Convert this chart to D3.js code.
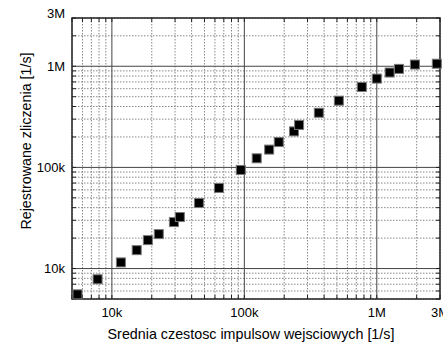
<!DOCTYPE html>
<html>
<head>
<meta charset="utf-8">
<script src="https://cdn.jsdelivr.net/npm/d3@7"></script>
<style>
body { margin: 0; background: #fff; }
text { font-family: "Liberation Sans", Arial, sans-serif; }
</style>
</head>
<body>
<script>
// input rate [1/s] vs registered counts [1/s]
const inputRate = [5500, 7800, 11700, 15400, 18700, 22600, 29400, 32600, 45400, 64300, 94000,
    124000, 154000, 182000, 237000, 259000, 365000, 517000, 771000, 1000000, 1250000, 1470000, 1940000, 2840000];
const counted = [5560, 7830, 11500, 15200, 19100, 21900, 28800, 32300, 44500, 62700, 94400,
    123000, 150000, 178000, 227000, 263000, 347000, 457000, 624000, 755000, 867000, 942000, 1040000, 1060000];

const xTickVals = [1e4, 1e5, 1e6, 3e6];
const xTickLabels = ['10k', '100k', '1M', '3M'];
const yTickVals = [1e4, 1e5, 1e6, 3e6];
const yTickLabels = ['10k', '100k', '1M', '3M'];

const outerWidth = 443;
const outerHeight = 347;
const margin = {top: 18, left: 72, bottom: 48, right: 3};
const width = outerWidth - margin.left - margin.right;
const height = outerHeight - margin.top - margin.bottom;

const svg = d3.select('body')
    .append('svg')
    .attr('width', outerWidth)
    .attr('height', outerHeight)
    .append('g')
    .attr('transform', `translate(${margin.left}, ${margin.top})`);

const xScale = d3.scaleLog().domain([5000, 3e6]).range([0, width]);
const yScale = d3.scaleLog().domain([5000, 3e6]).range([height, 0]);

// minor (2..9) and major (decade) positions
function logTicks(lo, hi) {
    let minor = [], major = [];
    for (let e = 3; e <= 7; e++) {
        for (let m = 1; m < 10; m++) {
            let v = m * Math.pow(10, e);
            if (v < lo || v > hi) continue;
            if (m === 1) major.push(v); else minor.push(v);
        }
    }
    return {minor, major};
}
const xt = logTicks(5000, 3e6);
const yt = logTicks(5000, 3e6);

const grid = svg.append('g');
grid.selectAll('.xminor').data(xt.minor).enter().append('line')
    .attr('x1', d => xScale(d)).attr('x2', d => xScale(d))
    .attr('y1', 0).attr('y2', height)
    .attr('stroke', '#888').attr('stroke-dasharray', '1.5,1.5').attr('stroke-width', 1);
grid.selectAll('.yminor').data(yt.minor).enter().append('line')
    .attr('y1', d => yScale(d)).attr('y2', d => yScale(d))
    .attr('x1', 0).attr('x2', width)
    .attr('stroke', '#888').attr('stroke-dasharray', '1.5,1.5').attr('stroke-width', 1);
grid.selectAll('.xmajor').data(xt.major).enter().append('line')
    .attr('x1', d => xScale(d)).attr('x2', d => xScale(d))
    .attr('y1', 0).attr('y2', height)
    .attr('stroke', '#444').attr('stroke-width', 1);
grid.selectAll('.ymajor').data(yt.major).enter().append('line')
    .attr('y1', d => yScale(d)).attr('y2', d => yScale(d))
    .attr('x1', 0).attr('x2', width)
    .attr('stroke', '#444').attr('stroke-width', 1);

// inward ticks on all four sides
const allX = xt.minor.concat(xt.major);
const allY = yt.minor.concat(yt.major);
const tickLen = 4;
const ticks = svg.append('g').attr('stroke', '#222').attr('stroke-width', 1);
ticks.selectAll('.tb').data(allX).enter().append('line')
    .attr('x1', d => xScale(d)).attr('x2', d => xScale(d))
    .attr('y1', height).attr('y2', height - tickLen);
ticks.selectAll('.tt').data(allX).enter().append('line')
    .attr('x1', d => xScale(d)).attr('x2', d => xScale(d))
    .attr('y1', 0).attr('y2', tickLen);
ticks.selectAll('.tl').data(allY).enter().append('line')
    .attr('y1', d => yScale(d)).attr('y2', d => yScale(d))
    .attr('x1', 0).attr('x2', tickLen);
ticks.selectAll('.tr').data(allY).enter().append('line')
    .attr('y1', d => yScale(d)).attr('y2', d => yScale(d))
    .attr('x1', width).attr('x2', width - tickLen);

// frame
svg.append('rect')
    .attr('width', width).attr('height', height)
    .attr('fill', 'none').attr('stroke', '#222').attr('stroke-width', 1.5);

// tick labels
svg.selectAll('.xlab').data(xTickVals).enter().append('text')
    .attr('x', d => xScale(d)).attr('y', height + 18)
    .attr('text-anchor', 'middle').attr('font-size', 13)
    .text((d, i) => xTickLabels[i]);
svg.selectAll('.ylab').data(yTickVals).enter().append('text')
    .attr('x', -7)
    .attr('y', d => d >= 3e6 ? yScale(d) : yScale(d) + 4.5)  // top label sits on the frame
    .attr('text-anchor', 'end').attr('font-size', 13)
    .text((d, i) => yTickLabels[i]);

// points
const sz = 9;
svg.selectAll('.pt').data(inputRate).enter().append('rect')
    .attr('x', d => xScale(d) - sz / 2)
    .attr('y', (d, i) => yScale(counted[i]) - sz / 2)
    .attr('width', sz).attr('height', sz)
    .attr('fill', '#000').attr('stroke', '#777').attr('stroke-width', 1);

// axis titles
svg.append('text')
    .attr('x', 251 - margin.left).attr('y', 339 - margin.top)
    .attr('text-anchor', 'middle').attr('font-size', 14.3)
    .text('Srednia czestosc impulsow wejsciowych [1/s]');
svg.append('text')
    .attr('transform', `translate(${31 - margin.left}, ${141 - margin.top}) rotate(-90)`)
    .attr('text-anchor', 'middle').attr('font-size', 14.3)
    .text('Rejestrowane zliczenia [1/s]');
</script>
</body>
</html>
